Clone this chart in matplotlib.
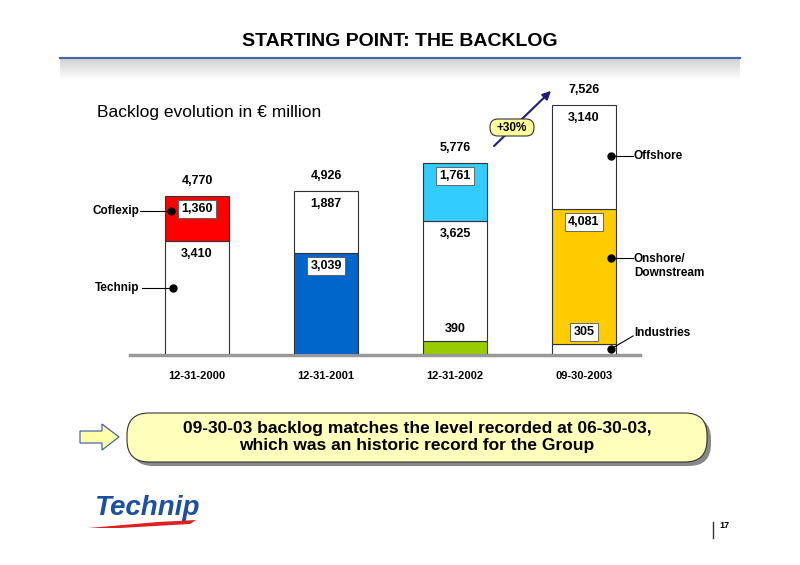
import numpy as np
import matplotlib.pyplot as plt
from matplotlib.patches import FancyBboxPatch, Polygon

plt.rcParams['font.family'] = ['Liberation Sans', 'DejaVu Sans']

# ---- data ----
dates = ['12-31-2000', '12-31-2001', '12-31-2002', '09-30-2003']
totals = ['4,770', '4,926', '5,776', '7,526']
# stacked segments per bar, bottom to top: (value, colour, boxed label)
segments = [
    [(3410, 'white', False), (1360, '#FF0000', True)],
    [(3039, '#0066CC', True), (1887, 'white', False)],
    [(390, '#99CC00', False), (3625, 'white', False), (1761, '#33CCFF', True)],
    [(305, 'white', True), (4081, '#FFCC00', True), (3140, 'white', False)],
]

W, H = 800, 565
fig = plt.figure(figsize=(8, 5.65), dpi=100)

def overlay():
    o = fig.add_axes([0, 0, 1, 1])
    o.set_xlim(0, W)
    o.set_ylim(H, 0)
    o.axis('off')
    o.patch.set_alpha(0)
    return o

ov = overlay()

# chart axes: baseline at px 354, top px 80; bar centres at 197 + 129*i
px_per_unit = 158 / 4770.0
left_px, right_px, base_px, top_px = 100, 720, 354, 80
ax = fig.add_axes([left_px / W, (H - base_px) / H, (right_px - left_px) / W, (base_px - top_px) / H])
ax.set_xlim(-(197 - left_px) / 129, (right_px - 197) / 129)
ax.set_ylim(0, (base_px - top_px) / px_per_unit)
ax.axis('off')
ax.patch.set_alpha(0)

u = 1 / px_per_unit  # data units per pixel
for i, segs in enumerate(segments):
    bottom = 0
    for val, col, boxed in segs:
        ax.bar(i, val, bottom=bottom, width=0.5, color=col, edgecolor='#333333', linewidth=0.8, zorder=2)
        top = bottom + val
        if val < 600:
            y = bottom + val + 12 * u
        else:
            y = top - 13 * u
        bbox = dict(boxstyle='square,pad=0.25', fc='white', ec='#555555', lw=0.6) if boxed else None
        ax.text(i, y, f'{val:,}', ha='center', va='center', fontsize=9,
                fontweight='bold', bbox=bbox, zorder=4)
        bottom = top
    ax.text(i, bottom + 15 * u, totals[i], ha='center', va='center', fontsize=9, fontweight='bold')
    ax.text(i, -22 * u, dates[i], ha='center', va='center', fontsize=8, fontweight='bold', clip_on=False)

top_ov = overlay()

# baseline
ov.plot([130, 640], [355, 355], color='#999999', lw=2.5, zorder=1)

# title with blue rule and grey shade
ov.text(400, 42, 'STARTING POINT: THE BACKLOG', ha='center', va='center', fontsize=14, fontweight='bold')
grad = np.linspace(0.82, 1, 50).reshape(-1, 1)
ov.imshow(np.dstack([grad, grad, grad]), extent=[60, 740, 80, 58], aspect='auto', zorder=0)
ov.plot([60, 740], [57.5, 57.5], color='#4466AA', lw=1.5)
ov.set_xlim(0, W)
ov.set_ylim(H, 0)

ov.text(97, 112, 'Backlog evolution in € million', ha='left', va='center', fontsize=12.5)

# side labels
def callout(dot, end, text, tx, ty, ha='left'):
    top_ov.plot([dot[0], end[0]], [dot[1], end[1]], color='black', lw=0.8, zorder=5)
    top_ov.plot(*dot, 'o', color='black', ms=5, zorder=6)
    top_ov.text(tx, ty, text, ha=ha, va='center', fontsize=8.5, fontweight='bold', zorder=5)

callout((171, 211), (140, 211), 'Coflexip', 139, 211, ha='right')
callout((173, 288), (142, 288), 'Technip', 139, 288, ha='right')
callout((611, 156), (633, 156), 'Offshore', 634, 156)
callout((611, 258), (633, 258), 'Onshore/\nDownstream', 634, 266)
callout((611, 349), (633, 336), 'Industries', 634, 333)

# +30% arrow
top_ov.annotate('', xy=(553, 89), xytext=(492, 148),
                arrowprops=dict(arrowstyle='-|>', color='#1F1F7A', lw=1.5, mutation_scale=12))
top_ov.add_patch(FancyBboxPatch((490, 119), 44, 17, boxstyle='round,pad=0,rounding_size=8',
                                fc='#FFFF99', ec='#333333', lw=0.8, zorder=6))
top_ov.text(512, 128, '+30%', ha='center', va='center', fontsize=8.5, fontweight='bold', zorder=7)

# bottom callout
ov.add_patch(FancyBboxPatch((131, 417), 580, 49, boxstyle='round,pad=0,rounding_size=22',
                            fc='#888888', ec='none', zorder=1))
ov.add_patch(FancyBboxPatch((127, 413), 580, 49, boxstyle='round,pad=0,rounding_size=22',
                            fc='#FFFFBB', ec='#333333', lw=0.8, zorder=2))
ov.text(417, 437, '09-30-03 backlog matches the level recorded at 06-30-03,\nwhich was an historic record for the Group',
        ha='center', va='center', fontsize=12.5, fontweight='bold', linespacing=1.1, zorder=3)
ov.add_patch(Polygon([(80, 431), (102, 431), (102, 424), (119, 437), (102, 450), (102, 443), (80, 443)],
                     closed=True, fc='#FFFFAA', ec='#3355AA', lw=0.8))

# logo and page number
ov.text(94, 508, 'Technip', ha='left', va='center', fontsize=20, fontweight='bold',
        style='italic', color='#1F4FA0')
ov.add_patch(Polygon([(88, 528), (158, 522), (196, 520), (190, 524), (120, 528)],
                     closed=True, fc='#E02020', ec='none'))
ov.plot([713, 713], [522, 538], color='#333333', lw=1)
ov.text(719, 526, '17', ha='left', va='center', fontsize=6.5, fontweight='bold')

fig.savefig('out.png', dpi=100)
